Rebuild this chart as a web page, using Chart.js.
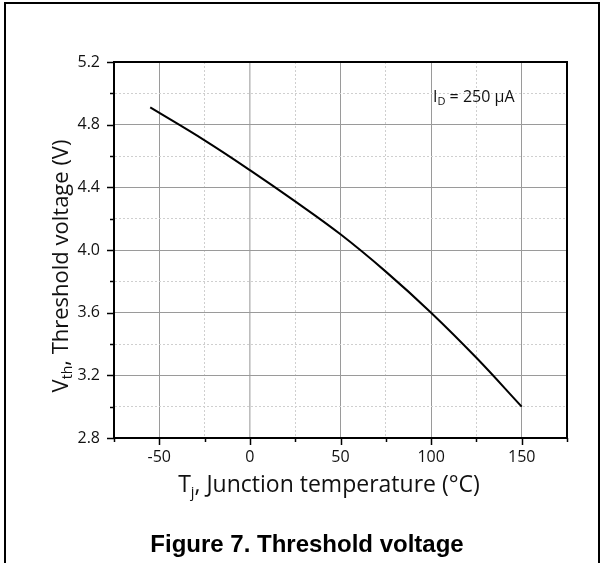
<!DOCTYPE html>
<html>
<head>
<meta charset="utf-8">
<title>Figure 7. Threshold voltage</title>
<script src="https://cdn.jsdelivr.net/npm/chart.js@4.4.0/dist/chart.umd.min.js"></script>
<style>
  html, body { margin: 0; padding: 0; background: #fff; }
  #wrap { width: 604px; height: 563px; }
</style>
</head>
<body>
<div id="wrap"><canvas id="vthChart" width="604" height="563"></canvas></div>
<script>
// Vth vs junction temperature, ID = 250 uA
var tempC = [-55, -25, 0, 25, 50, 75, 100, 125, 150];
var vthVolts = [4.91, 4.70, 4.51, 4.31, 4.10, 3.862, 3.60, 3.312, 3.00];

var xMajorTicks = [-50, 0, 50, 100, 150];
var yMajorTicks = [2.8, 3.2, 3.6, 4.0, 4.4, 4.8, 5.2];

var xTitleParts = [['T', 23, 0], ['j', 14.5, 5], [', Junction temperature (\u00B0C)', 23, 0]];
var yTitleParts = [['V', 22, 0], ['th', 14, 4], [', Threshold voltage (V)', 22, 0]];
var noteParts = [['I', 16, 0], ['D', 11, 3], [' = 250 \u00B5A', 16, 0]];
var captionText = 'Figure 7. Threshold voltage';

(function(){
  var FONT = '"Open Sans", "Noto Sans", sans-serif';
  var TXT = '#111';

  function isMajorX(v){ return xMajorTicks.indexOf(v) !== -1; }
  function isMajorY(v){
    for (var i = 0; i < yMajorTicks.length; i++) { if (Math.abs(yMajorTicks[i] - v) < 1e-6) return true; }
    return false;
  }

  function partsWidth(ctx, parts){
    var w = 0;
    parts.forEach(function(p){ ctx.font = p[1] + 'px ' + FONT; w += ctx.measureText(p[0]).width; });
    return w;
  }
  function drawParts(ctx, parts, x, y){
    ctx.textBaseline = 'alphabetic';
    ctx.textAlign = 'left';
    parts.forEach(function(p){
      ctx.font = p[1] + 'px ' + FONT;
      ctx.fillText(p[0], x, y + p[2]);
      x += ctx.measureText(p[0]).width;
    });
  }

  var decor = {
    id: 'decor',
    beforeDraw: function(chart){
      var ctx = chart.ctx;
      ctx.save();
      ctx.fillStyle = '#fff';
      ctx.fillRect(0, 0, chart.width, chart.height);
      ctx.strokeStyle = '#000';
      ctx.lineWidth = 2;
      ctx.strokeRect(5, 3, 594, 640);
      ctx.restore();
    },
    afterDraw: function(chart){
      var ctx = chart.ctx, a = chart.chartArea;
      var xs = chart.scales.x, ys = chart.scales.y;
      ctx.save();
      // plot frame
      ctx.strokeStyle = '#000';
      ctx.lineWidth = 2;
      ctx.strokeRect(a.left, a.top, a.right - a.left, a.bottom - a.top);
      // tick marks (major long, minor short)
      ctx.lineWidth = 1.5;
      xs.ticks.forEach(function(t){
        var px = Math.round(xs.getPixelForValue(t.value)) + 0.5;
        var len = isMajorX(t.value) ? 7 : 4;
        ctx.beginPath(); ctx.moveTo(px, a.bottom); ctx.lineTo(px, a.bottom + len); ctx.stroke();
      });
      ys.ticks.forEach(function(t){
        var py = Math.round(ys.getPixelForValue(t.value)) + 0.5;
        var len = isMajorY(t.value) ? 7 : 4;
        ctx.beginPath(); ctx.moveTo(a.left, py); ctx.lineTo(a.left - len, py); ctx.stroke();
      });

      ctx.fillStyle = TXT;
      // x axis title
      var w = partsWidth(ctx, xTitleParts);
      drawParts(ctx, xTitleParts, 329 - w / 2, 492);
      // y axis title (rotated)
      ctx.save();
      ctx.translate(68, 266);
      ctx.rotate(-Math.PI / 2);
      w = partsWidth(ctx, yTitleParts);
      drawParts(ctx, yTitleParts, -w / 2, 0);
      ctx.restore();
      // condition note
      drawParts(ctx, noteParts, 433, 102);
      // caption
      ctx.font = 'bold 24px "Liberation Sans", Arial, sans-serif';
      ctx.textAlign = 'center';
      ctx.fillStyle = '#000';
      ctx.fillText(captionText, 307, 552);
      ctx.restore();
    }
  };

  var points = tempC.map(function(t, i){ return { x: t, y: vthVolts[i] }; });

  new Chart(document.getElementById('vthChart').getContext('2d'), {
    type: 'scatter',
    data: {
      datasets: [{
        data: points,
        showLine: true,
        borderColor: '#000',
        borderWidth: 2,
        pointRadius: 0,
        tension: 0.4,
        fill: false
      }]
    },
    options: {
      responsive: false,
      animation: false,
      devicePixelRatio: 1,
      layout: { padding: { left: 0, top: 62, right: 37, bottom: 0 } },
      plugins: { legend: { display: false }, tooltip: { enabled: false } },
      scales: {
        x: {
          type: 'linear', min: -75, max: 175,
          afterFit: function(s){ s.height = 125; },
          ticks: {
            stepSize: 25, autoSkip: false, maxRotation: 0, padding: 3,
            color: TXT, font: { family: FONT, size: 16 },
            callback: function(v){ return isMajorX(v) ? String(v) : ''; }
          },
          grid: {
            drawTicks: true, tickLength: 7, tickColor: 'rgba(0,0,0,0)',
            color: function(c){
              if (!c.tick) return '#999';
              if (c.tick.value === 0) return '#bdbdbd';
              return isMajorX(c.tick.value) ? '#9a9a9a' : '#cfcfcf';
            },
            lineWidth: function(c){ return (c.tick && c.tick.value === 0) ? 1.6 : 1; }
          },
          border: {
            display: true, color: '#000', width: 2,
            dash: function(c){ return (c.tick && !isMajorX(c.tick.value)) ? [2, 2] : []; }
          }
        },
        y: {
          type: 'linear', min: 2.8, max: 5.2,
          afterFit: function(s){ s.width = 114; },
          ticks: {
            stepSize: 0.2, autoSkip: false, padding: 7,
            color: TXT, font: { family: FONT, size: 16 },
            callback: function(v){ return isMajorY(v) ? v.toFixed(1) : ''; }
          },
          grid: {
            drawTicks: true, tickLength: 7, tickColor: 'rgba(0,0,0,0)',
            color: function(c){
              if (!c.tick) return '#999';
              return isMajorY(c.tick.value) ? '#9a9a9a' : '#cfcfcf';
            }
          },
          border: {
            display: true, color: '#000', width: 2,
            dash: function(c){ return (c.tick && !isMajorY(c.tick.value)) ? [2, 2] : []; }
          }
        }
      }
    },
    plugins: [decor]
  });
})();
</script>
</body>
</html>
